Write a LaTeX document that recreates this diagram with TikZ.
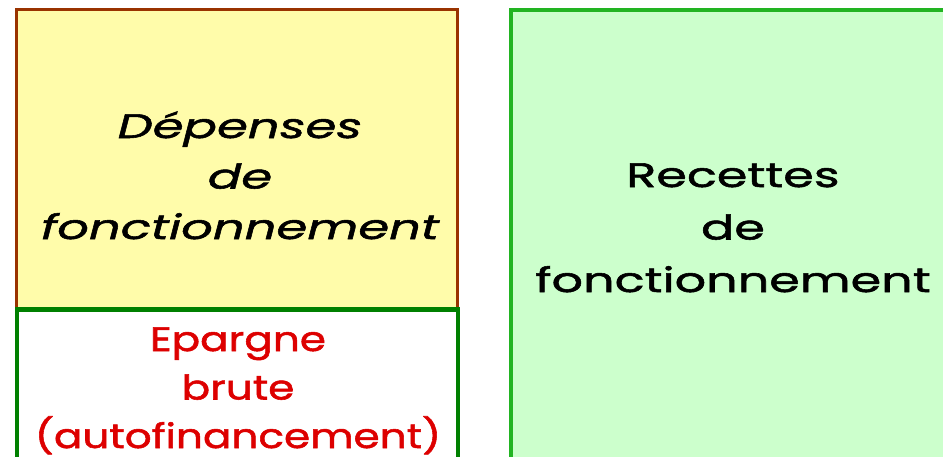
\documentclass[tikz,border=0pt]{standalone}
\usepackage{fontspec}
\setmainfont{Poppins}
\newfontfamily\blackwide{Poppins}[FakeStretch=1.45, FakeBold=1.6]
\newfontfamily\italwide{Poppins Italic}[FakeStretch=1.46, FakeBold=1.6]
\newfontfamily\redwide{Poppins}[FakeStretch=1.24, FakeBold=1.6]
\definecolor{brownb}{RGB}{153,51,0}
\definecolor{yfill}{RGB}{255,252,170}
\definecolor{dgreen}{RGB}{0,128,0}
\definecolor{lgreen}{RGB}{34,180,34}
\definecolor{gfill}{RGB}{204,255,204}
\definecolor{redtxt}{RGB}{221,0,0}
\tikzset{
  txt/.style={align=center, inner sep=0pt, anchor=base},
}
\begin{document}
\begin{tikzpicture}[x=1pt,y=-1pt]
\useasboundingbox (0,0) rectangle (943,456);
\fill[white] (0,0) rectangle (943,456);
% right box
\draw[lgreen, line width=4pt, fill=gfill] (511,9.5) rectangle (960,470);
% left top box
\draw[brownb, line width=3pt, fill=yfill] (16.5,9.5) rectangle (457,308);
% left bottom box
\draw[dgreen, line width=4.5pt, fill=white] (17,309.5) rectangle (458,470);
\node[txt, font=\italwide\fontsize{34}{50.5}\selectfont] (dep) at (240,239) {Dépenses\\de\\fonctionnement};
\node[txt, font=\blackwide\fontsize{34}{52.5}\selectfont] (rec) at (733,292) {Recettes\\de\\fonctionnement};
\node[txt, font=\redwide\fontsize{34}{48.5}\selectfont, text=redtxt] (epa) at (238,448) {Epargne\\brute\\(autofinancement)};
\end{tikzpicture}
\end{document}
